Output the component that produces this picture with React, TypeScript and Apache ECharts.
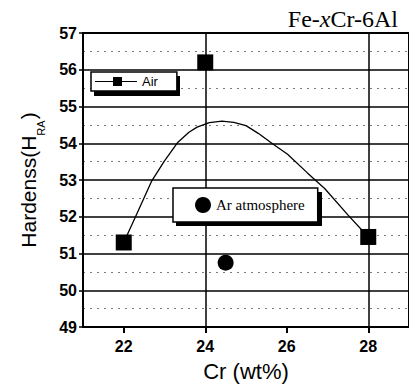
import React, { useEffect, useRef } from "react";
import * as echarts from "echarts";

// Measured points (Cr wt%, hardness HRA)
const airX = [22, 24, 28];
const airY = [51.3, 56.2, 51.45];
const arX = [24.5];
const arY = [50.75];
// Fitted curve
const fitX = [22, 22.35, 22.68, 23.0, 23.33, 23.6, 23.8, 24.1, 24.41, 24.7, 25.0, 25.3, 25.66, 26.02, 26.5, 26.93, 27.5, 28];
const fitY = [51.3, 52.15, 52.96, 53.52, 54.03, 54.3, 54.44, 54.56, 54.6, 54.57, 54.48, 54.27, 53.98, 53.7, 53.2, 52.77, 52.05, 51.45];
const xTickValues = [22, 24, 26, 28];
const titleText = "{a|Fe-}{i|x}{a|Cr-6Al}";
const yName = "{m|Hardenss(H}{s|RA}{m|)}";
const xName = "Cr (wt%)";

const airIcon = "path://M0,4H18V0H27V9H18V5H0ZM27,4H42V5H27Z";

export default function App() {
  const ref = useRef<HTMLDivElement>(null);
  useEffect(() => {
    if (!ref.current) return;
    const chart = echarts.init(ref.current, undefined, { renderer: "svg" });
    const sans = "Liberation Sans, Arial, sans-serif";
    const serif = "Liberation Serif, Times New Roman, serif";
    const legendBase = {
      backgroundColor: "#fff",
      borderColor: "#000",
      borderWidth: 1.5,
      selectedMode: false,
      z: 6,
    };
    chart.setOption({
      animation: false,
      backgroundColor: "#fff",
      title: {
        text: titleText,
        right: 6,
        top: 2,
        textStyle: {
          fontWeight: "normal",
          rich: {
            a: { fontFamily: serif, fontSize: 24, fontWeight: "normal", color: "#000" },
            i: { fontFamily: serif, fontSize: 24, fontWeight: "normal", color: "#000", fontStyle: "italic" },
          },
        },
      },
      graphic: [
        { type: "rect", z: 5, shape: { x: 94, y: 76, width: 86, height: 20 }, style: { fill: "#000" } },
        { type: "rect", z: 5, shape: { x: 176, y: 192, width: 146, height: 34 }, style: { fill: "#000" } },
      ],
      legend: [
        {
          ...legendBase,
          data: [{ name: "Air", icon: airIcon }],
          left: 91,
          top: 72,
          itemWidth: 42,
          itemHeight: 9,
          padding: [3, 19, 3, 4],
          textStyle: { fontFamily: sans, fontSize: 13, color: "#000" },
        },
        {
          ...legendBase,
          data: [{ name: "Ar atmosphere", icon: "circle" }],
          left: 173,
          top: 188,
          itemWidth: 16,
          itemHeight: 17,
          padding: [9, 13, 9, 22],
          textStyle: { fontFamily: serif, fontSize: 15, color: "#000" },
        },
      ],
      grid: {
        left: 83,
        top: 33,
        width: 333,
        height: 297,
        show: true,
        borderColor: "#000",
        borderWidth: 2,
        backgroundColor: "transparent",
      },
      xAxis: {
        type: "value",
        min: 21,
        max: 29,
        interval: 1,
        name: xName,
        nameLocation: "middle",
        nameGap: 33,
        nameTextStyle: { fontFamily: sans, fontSize: 22, color: "#000" },
        axisLine: { show: true, lineStyle: { color: "#000", width: 2 } },
        axisTick: {
          show: true,
          length: 6,
          customValues: xTickValues,
          lineStyle: { color: "#000", width: 2 },
        },
        axisLabel: {
          customValues: xTickValues,
          formatter: (v: number) => (v % 2 === 0 ? String(v) : ""),
          margin: 11,
          fontFamily: sans,
          fontSize: 16,
          fontWeight: "bold",
          color: "#000",
        },
        splitLine: {
          show: true,
          lineStyle: { color: ["rgba(0,0,0,0)", "#000"], width: 1.5 },
        },
      },
      yAxis: {
        type: "value",
        min: 49,
        max: 57,
        interval: 1,
        name: yName,
        nameLocation: "middle",
        nameRotate: 90,
        nameGap: 44,
        nameTextStyle: {
          rich: {
            m: { fontFamily: sans, fontSize: 21, lineHeight: 21, verticalAlign: "top", color: "#000" },
            s: {
              fontFamily: sans,
              fontSize: 11,
              lineHeight: 11,
              verticalAlign: "top",
              padding: [17, 1, 0, 0],
              color: "#000",
            },
          },
        },
        axisLine: { show: true, lineStyle: { color: "#000", width: 2 } },
        axisTick: { show: true, length: 4, lineStyle: { color: "#000", width: 1.5 } },
        axisLabel: {
          margin: 6,
          fontFamily: sans,
          fontSize: 16,
          fontWeight: "bold",
          color: "#000",
        },
        splitLine: { show: true, lineStyle: { color: "#000", width: 1.5 } },
        minorTick: { show: false, splitNumber: 2 },
        minorSplitLine: {
          show: true,
          lineStyle: { color: "#777", width: 1, type: [2, 5] },
        },
      },
      series: [
        {
          name: "fit",
          type: "line",
          data: fitX.map((x, i) => [x, fitY[i]]),
          smooth: false,
          showSymbol: false,
          symbol: "none",
          lineStyle: { color: "#000", width: 1.3 },
          z: 2,
        },
        {
          name: "Air",
          type: "scatter",
          data: airX.map((x, i) => [x, airY[i]]),
          symbol: "rect",
          symbolSize: 16,
          itemStyle: { color: "#000", opacity: 1 },
          z: 3,
        },
        {
          name: "Ar atmosphere",
          type: "scatter",
          data: arX.map((x, i) => [x, arY[i]]),
          symbol: "circle",
          symbolSize: 16,
          itemStyle: { color: "#000", opacity: 1 },
          z: 3,
        },
      ],
    });
    return () => chart.dispose();
  }, []);
  return (
    <div
      ref={ref}
      style={{ position: "absolute", left: 0, top: 0, width: 409, height: 387, background: "#fff" }}
    />
  );
}
